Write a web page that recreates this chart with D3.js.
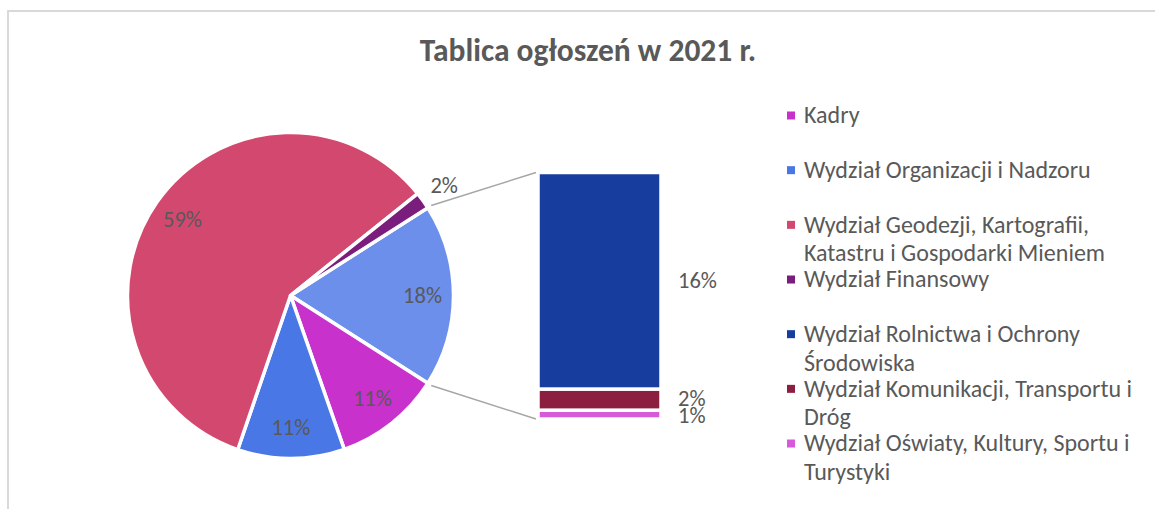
<!DOCTYPE html>
<html lang="pl">
<head>
  <meta charset="UTF-8">
  <title>Tablica ogłoszeń w 2021 r.</title>
  <script src="https://d3js.org/d3.v7.min.js"></script>
  <style>
    body { margin: 0; background: #fff; }
    svg { display: block; font-family: Calibri, Carlito, "Open Sans", sans-serif; }
  </style>
</head>
<body>
  <div id="chart"></div>
  <script>
    // categories in legend order
    const categories = [
      "Kadry",
      "Wydział Organizacji i Nadzoru",
      "Wydział Geodezji, Kartografii, Katastru i Gospodarki Mieniem",
      "Wydział Finansowy",
      "Wydział Rolnictwa i Ochrony Środowiska",
      "Wydział Komunikacji, Transportu i Dróg",
      "Wydział Oświaty, Kultury, Sportu i Turystyki"
    ];
    // share of announcements (%)
    const shares = [10.6, 10.6, 59.0, 1.7, 15.9, 1.55, 0.65];
    const colors = ["#c831cc", "#4a77e6", "#d3486f", "#7b1d7c", "#173e9e", "#8c1f40", "#d65ada"];
    // the last three go into the bar ("pie of bar")
    const barCount = 3;
    const otherColor = "#6b8fea";

    const width = 1155, height = 509;
    const textColor = "#595959";
    const total = d3.sum(shares);
    const fmt = d3.format(".0%");

    const svg = d3.select("#chart").append("svg")
      .attr("width", width)
      .attr("height", height);

    // chart frame
    svg.append("rect")
      .attr("x", 8).attr("y", 11)
      .attr("width", 1300).attr("height", 700)
      .attr("fill", "none")
      .attr("stroke", "#d9d9d9")
      .attr("stroke-width", 2);

    svg.append("text")
      .attr("x", 588).attr("y", 61)
      .attr("text-anchor", "middle")
      .attr("fill", textColor)
      .style("font-size", "31.5px")
      .style("font-weight", "bold")
      .text("Tablica ogłoszeń w 2021 r.");

    // pie data: first slices + the "other" slice built from the bar items
    const split = categories.length - barCount;
    const pieData = [{ name: "other", value: d3.sum(shares.slice(split)), color: otherColor }]
      .concat(categories.slice(0, split).map((c, i) => ({ name: c, value: shares[i], color: colors[i] })));

    const cx = 290.5, cy = 295.5, r = 163;
    const otherAngle = pieData[0].value / total * 2 * Math.PI;
    const start = Math.PI / 2 - otherAngle / 2;

    const arcs = d3.pie()
      .sort(null)
      .value(d => d.value)
      .startAngle(start)
      .endAngle(start + 2 * Math.PI)(pieData);

    const arc = d3.arc().innerRadius(0).outerRadius(r);
    const pieG = svg.append("g").attr("transform", `translate(${cx},${cy})`);

    pieG.selectAll("path")
      .data(arcs)
      .join("path")
      .attr("d", arc)
      .attr("fill", d => d.data.color)
      .attr("stroke", "#fff")
      .attr("stroke-width", 3.5)
      .attr("stroke-linejoin", "round");

    // percentage labels, small slices go outside
    pieG.selectAll("text")
      .data(arcs)
      .join("text")
      .attr("transform", d => {
        const a = (d.startAngle + d.endAngle) / 2;
        const k = d.data.value / total < 0.05 ? 1.16 : 0.81;
        return `translate(${Math.sin(a) * r * k},${-Math.cos(a) * r * k})`;
      })
      .attr("text-anchor", "middle")
      .attr("dy", "0.33em")
      .attr("fill", textColor)
      .style("font-size", "22.5px")
      .text(d => fmt(d.data.value / total));

    // bar with the split-out categories
    const barX = 538, barW = 123;
    const y = d3.scaleLinear()
      .domain([0, pieData[0].value])
      .range([419, 172.5]);

    const barItems = categories.slice(split).map((c, i) => ({
      name: c, value: shares[split + i], color: colors[split + i]
    })).reverse();   // stacked from the bottom
    let acc = 0;
    barItems.forEach(d => { d.y0 = acc; acc += d.value; d.y1 = acc; });

    // connector lines
    const a0 = arcs[0].startAngle, a1 = arcs[0].endAngle, rl = r + 4;
    const lines = [
      [[cx + Math.sin(a0) * rl, cy - Math.cos(a0) * rl], [barX - 2, y(acc)]],
      [[cx + Math.sin(a1) * rl, cy - Math.cos(a1) * rl], [barX - 2, y(0)]]
    ];
    svg.append("g")
      .selectAll("path")
      .data(lines)
      .join("path")
      .attr("d", d3.line())
      .attr("stroke", "#a6a6a6")
      .attr("stroke-width", 1.5)
      .attr("fill", "none");

    svg.append("g")
      .selectAll("rect")
      .data(barItems)
      .join("rect")
      .attr("x", barX)
      .attr("width", barW)
      .attr("y", d => y(d.y1))
      .attr("height", d => y(d.y0) - y(d.y1))
      .attr("fill", d => d.color)
      .attr("stroke", "#fff")
      .attr("stroke-width", 3.5);

    // 1% / 2% labels sit tight, they overlap a bit like in the original
    svg.append("g")
      .selectAll("text")
      .data(barItems)
      .join("text")
      .attr("x", barX + barW + 17)
      .attr("y", (d, i) => (y(d.y0) + y(d.y1)) / 2 + (i === 0 ? 1 : i === 1 ? -1 : 0))
      .attr("dy", "0.33em")
      .attr("fill", textColor)
      .style("font-size", "22.5px")
      .text(d => fmt(d.value / total));

    // legend
    const legend = svg.append("g");
    const item = legend.selectAll("g")
      .data(categories)
      .join("g")
      .attr("transform", (d, i) => `translate(787,${115.5 + i * 54.67})`);

    item.append("rect")
      .attr("x", 0).attr("y", -4)
      .attr("width", 8).attr("height", 8)
      .attr("fill", (d, i) => colors[i]);

    item.append("text")
      .attr("x", 17)
      .attr("fill", textColor)
      .style("font-size", "24px")
      .each(function (d) { wrap(d3.select(this), d, 340); });

    function wrap(text, str, maxW) {
      const words = str.split(" ");
      let line = [];
      let n = 0;
      let tspan = text.append("tspan").attr("x", 17).attr("dy", "0.33em");
      words.forEach(w => {
        line.push(w);
        tspan.text(line.join(" "));
        if (tspan.node().getComputedTextLength() > maxW && line.length > 1) {
          line.pop();
          tspan.text(line.join(" "));
          line = [w];
          n++;
          tspan = text.append("tspan").attr("x", 17).attr("y", n * 28.7).attr("dy", "0.33em").text(w);
        }
      });
    }
  </script>
</body>
</html>
